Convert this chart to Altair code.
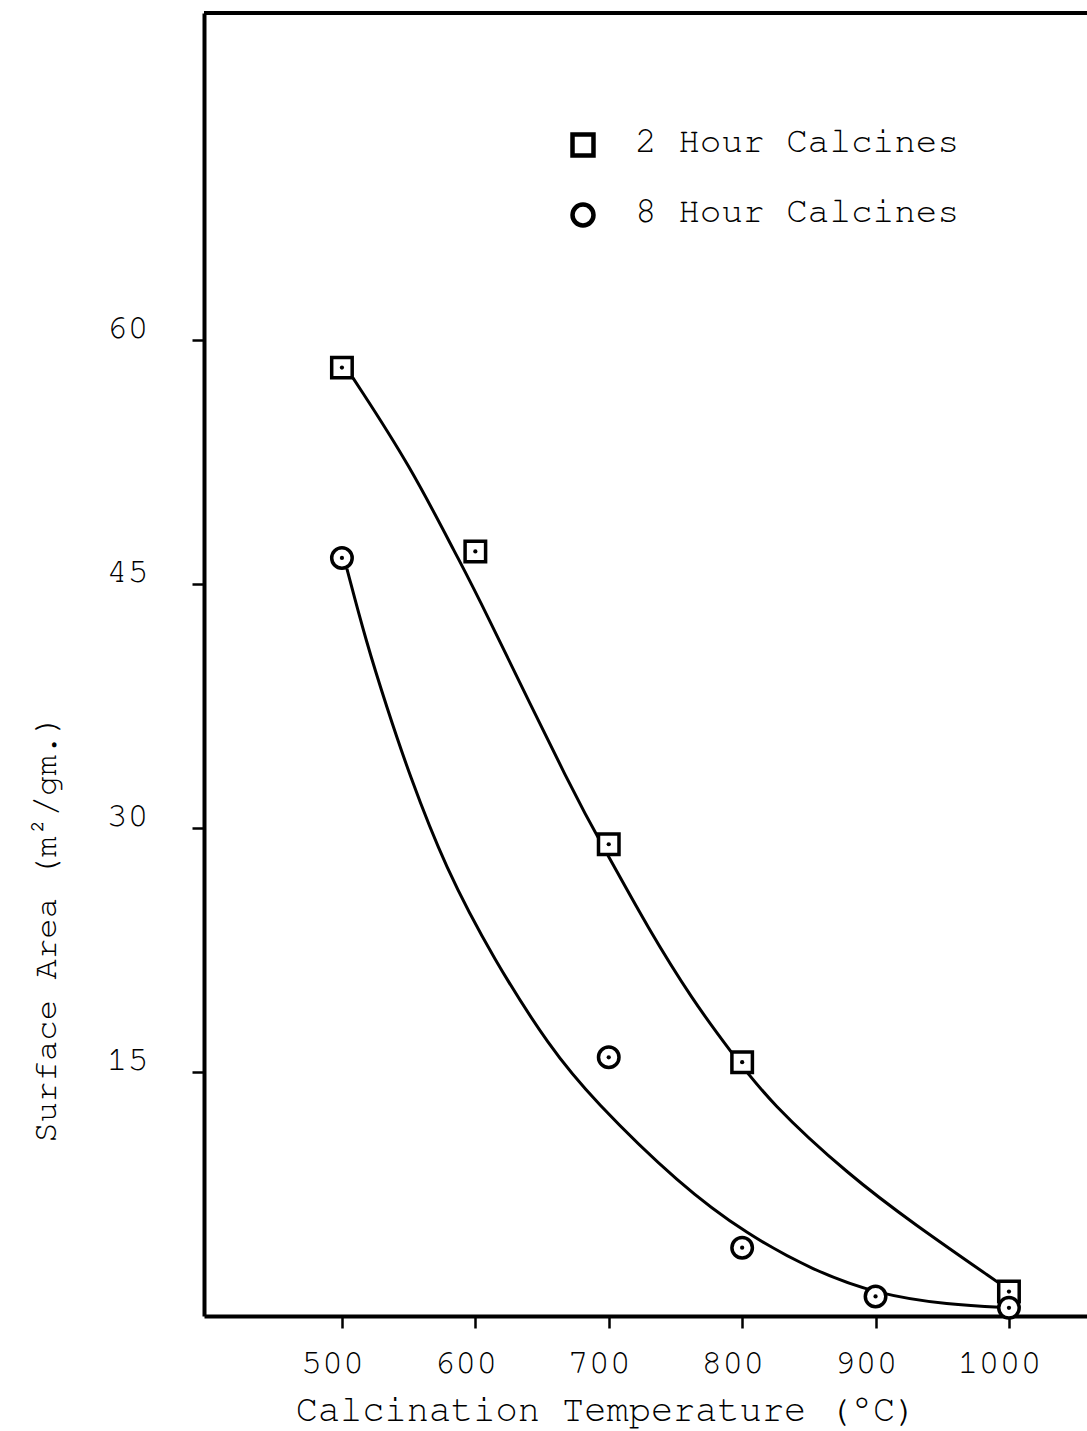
import altair as alt
import pandas as pd

# Measured surface areas (m^2/gm) at each calcination temperature (deg C)
temps_2h = [500, 600, 700, 800, 1000]
area_2h = [58.3, 47.0, 29.0, 15.6, 1.5]

temps_8h = [500, 700, 800, 900, 1000]
area_8h = [46.6, 15.9, 4.2, 1.2, 0.5]

# Hand-drawn smoothing curves through each series
curve_2h_t = [508, 551, 588, 600, 676, 699, 729, 763, 791, 821, 881, 928, 993, 1000]
curve_2h_v = [57.7, 52.3, 46.4, 44.6, 31.7, 28.4, 23.9, 19.4, 16.3, 13.1, 8.6, 5.7, 2.0, 1.6]

curve_8h_t = [503.7, 518, 533.7, 550.2, 577.2, 613.9, 655.9, 688.2, 753.4, 804, 853, 903, 954, 1001]
curve_8h_v = [45.95, 41.5, 37.4, 33.35, 27.6, 21.9, 16.5, 13.3, 8.05, 5.0, 2.8, 1.3, 0.7, 0.5]

series_names = ["2 Hour Calcines", "8 Hour Calcines"]
series_shapes = ["square", "circle"]
x_ticks = [500, 600, 700, 800, 900, 1000]
y_ticks = [15, 30, 45, 60]

FONT = "'Nimbus Mono PS', FreeMono, 'Liberation Mono', monospace"
W, H = 883, 1303

points = pd.DataFrame(
    {
        "series": [series_names[0]] * len(temps_2h) + [series_names[1]] * len(temps_8h),
        "temp": temps_2h + temps_8h,
        "area": area_2h + area_8h,
    }
)
curves = pd.DataFrame(
    {
        "series": [series_names[0]] * len(curve_2h_t) + [series_names[1]] * len(curve_8h_t),
        "temp": curve_2h_t + curve_8h_t,
        "area": curve_2h_v + curve_8h_v,
        "idx": list(range(len(curve_2h_t))) + list(range(len(curve_8h_t))),
    }
)

x_enc = alt.X(
    "temp:Q",
    scale=alt.Scale(domain=[396.6, 1058.5], nice=False, zero=False),
    axis=alt.Axis(
        values=x_ticks,
        format="d",
        title="Calcination Temperature (°C)",
        titleFont=FONT,
        titleFontSize=37,
        titleFontWeight="normal",
        titleColor="black",
        titleX=402,
        titleY=104,
        titleAlign="center",
        titleBaseline="alphabetic",
        labelFont=FONT,
        labelFontSize=35,
        labelColor="black",
        labelBaseline="alphabetic",
        labelPadding=44,
        labelOffset=-10,
        labelFlush=False,
        tickSize=12,
        tickWidth=2.5,
        tickColor="black",
        domainColor="black",
        domainWidth=4,
        grid=False,
    ),
)
y_enc = alt.Y(
    "area:Q",
    scale=alt.Scale(domain=[0, 80.1], nice=False, zero=False),
    axis=alt.Axis(
        values=y_ticks,
        title="Surface Area (m²/gm.)",
        titleFont=FONT,
        titleFontSize=34,
        titleFontWeight="normal",
        titleColor="black",
        titleAngle=270,
        titleX=-149,
        titleY=915,
        titleAlign="center",
        titleBaseline="alphabetic",
        labelFont=FONT,
        labelFontSize=35,
        labelColor="black",
        labelBaseline="alphabetic",
        labelPadding=44,
        labelOffset=-2,
        labelFlush=False,
        tickSize=12,
        tickWidth=2.5,
        tickColor="black",
        domainColor="black",
        domainWidth=4,
        grid=False,
    ),
)

one_row = pd.DataFrame({"k": [0]})

# top edge of the frame
frame_top = alt.Chart(one_row).mark_rule(
    color="black", strokeWidth=4
).encode(x=alt.value(0), x2=alt.value(W), y=alt.value(0))

lines = alt.Chart(curves).mark_line(
    interpolate="basis", color="black", strokeWidth=3
).encode(x=x_enc, y=y_enc, detail="series:N", order="idx:Q")

markers = alt.Chart(points).mark_point(
    filled=False, fill="white", stroke="black", strokeWidth=3.5, size=420, opacity=1
).encode(
    x=x_enc,
    y=y_enc,
    shape=alt.Shape(
        "series:N",
        scale=alt.Scale(domain=series_names, range=series_shapes),
        legend=None,
    ),
)

dots = alt.Chart(points).mark_point(
    filled=True, shape="circle", color="black", size=18, opacity=1
).encode(x=x_enc, y=y_enc)

# key in the upper right of the plot
key_layers = []
for i, (name, shape) in enumerate(zip(series_names, series_shapes)):
    key_layers.append(
        alt.Chart(one_row)
        .mark_point(
            shape=shape, filled=False, fill="white", stroke="black",
            strokeWidth=4.5, size=440, opacity=1,
        )
        .encode(x=alt.value(379), y=alt.value(132 + 70 * i))
    )
    key_layers.append(
        alt.Chart(one_row)
        .mark_text(
            font=FONT, fontSize=36, color="black", align="left", baseline="alphabetic"
        )
        .encode(x=alt.value(431), y=alt.value(139 + 70 * i), text=alt.value(name))
    )

chart = (
    alt.layer(frame_top, lines, markers, dots, *key_layers)
    .properties(
        width=W,
        height=H,
        autosize=alt.AutoSizeParams(type="none"),
        padding={"left": 204, "top": 13, "right": 0, "bottom": 115},
        background="white",
    )
    .configure_view(stroke=None)
)

chart.save("out.html", embed_options={"renderer": "svg", "actions": False})
